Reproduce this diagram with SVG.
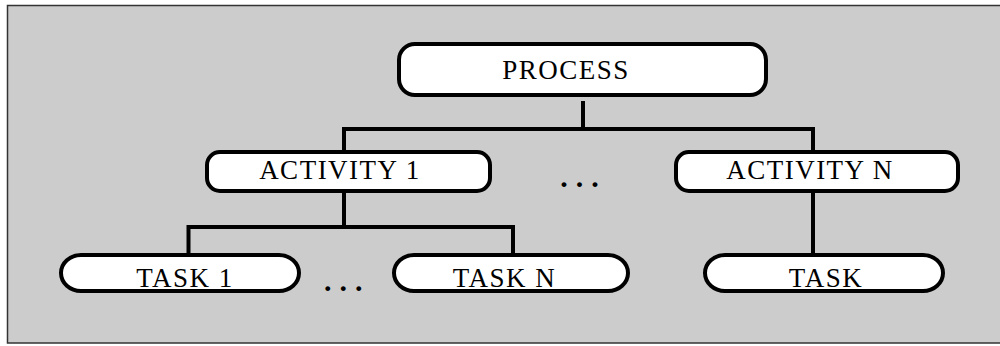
<svg xmlns="http://www.w3.org/2000/svg" width="1000" height="346" viewBox="0 0 1000 346">
<style>
.box{fill:#ffffff;stroke:#000000;stroke-width:4}
.lbl{font-family:"Liberation Serif","Times New Roman",serif;font-size:27px;fill:#000000;letter-spacing:1.5px;text-anchor:middle}
.dots{font-family:"Liberation Serif","Times New Roman",serif;font-size:30px;font-weight:bold;fill:#000000;letter-spacing:8px}
.conn{fill:none;stroke:#000000;stroke-width:4;stroke-linejoin:miter;stroke-linecap:butt}
</style>
<rect x="7.5" y="5.5" width="1000" height="337.5" fill="#cccccc" stroke="#333333" stroke-width="1.5"/>
<g id="connectors">
<path class="conn" d="M583 101 V129"/>
<path class="conn" d="M344 152 V129 H813 V152"/>
<path class="conn" d="M344 193 V227"/>
<path class="conn" d="M188.5 255 V227 H513 V255"/>
<path class="conn" d="M813 193 V255"/>
</g>
<g id="process">
<rect class="box" x="399" y="44" width="367" height="51" rx="16" ry="16"/>
<text class="lbl" x="566" y="79">PROCESS</text>
</g>
<g id="activity1">
<rect class="box" x="207" y="152" width="283" height="39" rx="13" ry="13"/>
<text class="lbl" x="340" y="179">ACTIVITY 1</text>
</g>
<g id="activityN">
<rect class="box" x="676" y="152" width="282" height="39" rx="13" ry="13"/>
<text class="lbl" x="810" y="179">ACTIVITY N</text>
</g>
<g id="dots1">
<text class="dots" x="560.3" y="186.5">...</text>
</g>
<g id="task1">
<rect class="box" x="61" y="255" width="238" height="36" rx="20" ry="18"/>
<text class="lbl" x="185" y="287">TASK 1</text>
</g>
<g id="dots2">
<text class="dots" x="324" y="291">...</text>
</g>
<g id="taskN">
<rect class="box" x="394" y="255" width="234" height="36" rx="20" ry="18"/>
<text class="lbl" x="504.5" y="287">TASK N</text>
</g>
<g id="task">
<rect class="box" x="705" y="255" width="238" height="36" rx="20" ry="18"/>
<text class="lbl" x="826" y="287">TASK</text>
</g>
</svg>
